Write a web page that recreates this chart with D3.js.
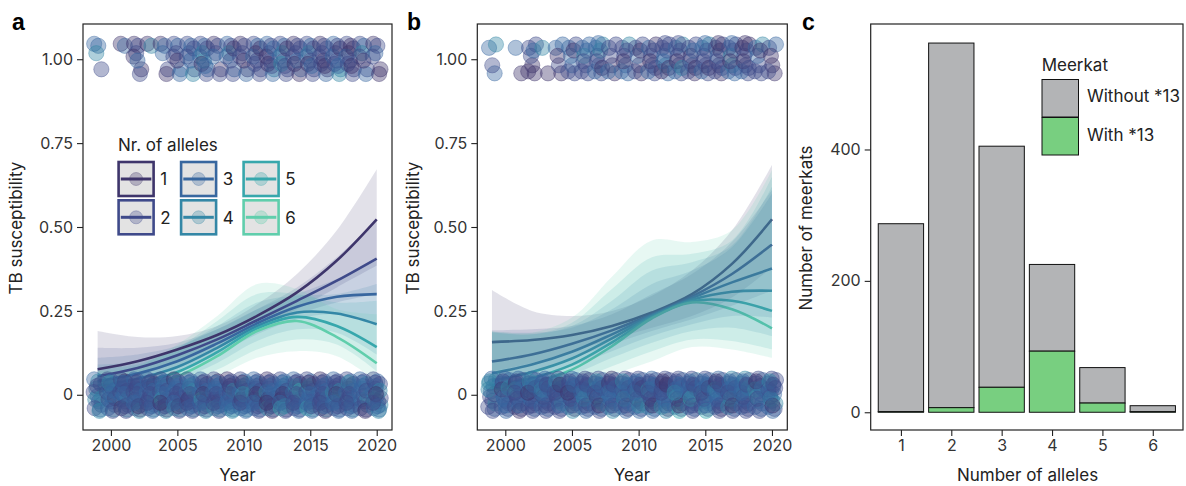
<!DOCTYPE html>
<html>
<head>
<meta charset="utf-8">
<script src="https://cdn.jsdelivr.net/npm/d3@7"></script>
<style>
  body { margin: 0; background: #fff; }
  svg text { font-family: Inter, Roboto, sans-serif; }
</style>
</head>
<body>
<script>
// ---------- data ----------
const years = [1999, 2002, 2005, 2008, 2011, 2014, 2017, 2020];
const alleles = [1, 2, 3, 4, 5, 6];
const alleleColors = ["#3E356B", "#3F4A8A", "#38679F", "#3487A6", "#37A7AC", "#60CEAC"];

// panel a: fitted curves and intervals per allele, at the years above
const fitA = [
  [0.076, 0.100, 0.135, 0.178, 0.235, 0.305, 0.400, 0.523],
  [0.055, 0.080, 0.118, 0.165, 0.222, 0.280, 0.340, 0.406],
  [0.040, 0.063, 0.100, 0.153, 0.213, 0.262, 0.292, 0.300],
  [0.028, 0.048, 0.083, 0.140, 0.205, 0.245, 0.242, 0.210],
  [0.018, 0.035, 0.068, 0.127, 0.198, 0.232, 0.205, 0.142],
  [0.012, 0.025, 0.055, 0.115, 0.190, 0.220, 0.172, 0.094]
];
const hiA = [
  [0.190, 0.172, 0.175, 0.205, 0.270, 0.360, 0.490, 0.672],
  [0.140, 0.140, 0.155, 0.195, 0.255, 0.320, 0.410, 0.520],
  [0.110, 0.120, 0.145, 0.195, 0.255, 0.300, 0.345, 0.400],
  [0.090, 0.100, 0.140, 0.205, 0.275, 0.295, 0.300, 0.330],
  [0.080, 0.090, 0.140, 0.220, 0.300, 0.300, 0.275, 0.280],
  [0.070, 0.085, 0.150, 0.235, 0.330, 0.315, 0.255, 0.240]
];
const loA = [
  [0.028, 0.055, 0.100, 0.150, 0.200, 0.255, 0.320, 0.385],
  [0.020, 0.040, 0.085, 0.140, 0.190, 0.240, 0.275, 0.300],
  [0.012, 0.028, 0.065, 0.120, 0.180, 0.225, 0.240, 0.210],
  [0.008, 0.018, 0.045, 0.095, 0.160, 0.195, 0.185, 0.120],
  [0.004, 0.010, 0.030, 0.075, 0.135, 0.165, 0.150, 0.070],
  [0.002, 0.006, 0.018, 0.055, 0.110, 0.130, 0.115, 0.040]
];

// panel b
const fitB = [
  [0.157, 0.163, 0.178, 0.205, 0.245, 0.300, 0.390, 0.523],
  [0.099, 0.120, 0.152, 0.192, 0.240, 0.293, 0.360, 0.448],
  [0.064, 0.090, 0.128, 0.180, 0.237, 0.288, 0.335, 0.376],
  [0.042, 0.068, 0.108, 0.168, 0.234, 0.283, 0.307, 0.310],
  [0.028, 0.050, 0.090, 0.156, 0.231, 0.279, 0.280, 0.250],
  [0.018, 0.037, 0.075, 0.145, 0.228, 0.275, 0.255, 0.198]
];
const hiB = [
  [0.312, 0.250, 0.235, 0.250, 0.295, 0.370, 0.490, 0.685],
  [0.192, 0.195, 0.205, 0.240, 0.300, 0.360, 0.455, 0.610],
  [0.188, 0.185, 0.200, 0.255, 0.330, 0.370, 0.440, 0.600],
  [0.186, 0.180, 0.205, 0.280, 0.370, 0.395, 0.445, 0.620],
  [0.186, 0.180, 0.215, 0.315, 0.410, 0.420, 0.460, 0.650],
  [0.190, 0.185, 0.230, 0.352, 0.460, 0.455, 0.490, 0.670]
];
const loB = [
  [0.070, 0.095, 0.130, 0.165, 0.200, 0.235, 0.290, 0.380],
  [0.045, 0.070, 0.110, 0.150, 0.190, 0.225, 0.265, 0.310],
  [0.025, 0.045, 0.085, 0.130, 0.175, 0.210, 0.235, 0.230],
  [0.015, 0.030, 0.060, 0.110, 0.155, 0.190, 0.200, 0.175],
  [0.008, 0.018, 0.040, 0.085, 0.130, 0.165, 0.160, 0.135],
  [0.004, 0.010, 0.025, 0.060, 0.100, 0.142, 0.135, 0.110]
];

// observed animals per year (one char = allele count of one animal)
const pointYears = d3.range(1999, 2021);
const infected = [
  "3324", "", "13", "1212213", "14", "13231", "2332321", "23234232", "2334234213", "121223",
  "32342321", "1212321", "232123212", "3242312312", "2324232142", "123212321", "2324232213",
  "1212321221", "3242432123", "2121232121", "2324321", "121312"
];
const healthy = [
  "34243232432424", "23234243232132433", "213242323324123232", "3232124323232423213",
  "3232432123342323232", "2324123252332432321", "1223432323324232213", "2332432312423234232",
  "3243232152332423123", "2123432321324233232", "1232433232123424233", "2323432412323312432",
  "3212342323243232123", "1232342312324123321", "2343232412335232143", "3234232132432325232",
  "2323423232435312323", "1232432323342123232", "3242343234232324123", "2332432124232343232",
  "3243232432342132", "2342333242323424132"
];
// jitter offsets (years, probability) used in each panel
const jitXA = [-0.26, 0.05, 0.28, -0.10, 0.18, -0.30, 0.00, 0.24, -0.18, 0.10, -0.04, 0.30, -0.22, 0.14, -0.12, 0.22, -0.06, 0.08, -0.28, 0.20];
const jitYA = [0.046, 0.040, -0.030, 0.018, -0.044, 0.008, -0.004, 0.032, -0.014, -0.020, 0.026, -0.010, -0.040, -0.048, 0.036, 0.012, 0.002, -0.034, -0.024, 0.042];
const jitXB = [0.20, -0.22, 0.02, 0.30, -0.08, -0.28, 0.12, -0.14, 0.26, -0.02, 0.16, -0.26, 0.06, -0.18, 0.24, -0.10, 0.04, -0.30, 0.10, 0.28];
const jitYB = [-0.042, 0.034, -0.018, 0.044, 0.010, -0.036, 0.026, -0.006, -0.026, 0.048, 0.002, 0.016, -0.048, 0.040, 0.020, -0.012, -0.032, 0.006, 0.030, -0.022];

// panel c
const alleleCats = [1, 2, 3, 4, 5, 6];
const withStar13 = [1, 7, 38, 93, 14, 1];
const withoutStar13 = [286, 555, 367, 132, 54, 9];

const yTicks = [0, 0.25, 0.5, 0.75, 1];
const yearTicks = [2000, 2005, 2010, 2015, 2020];
const countTicks = [0, 200, 400];

// ---------- drawing ----------
const svg = d3.select("body").append("svg")
    .attr("width", 1186)
    .attr("height", 486);

const tickColor = "#333";

function frame(x0, x1, y0, y1) {
    svg.append("rect")
        .attr("x", x0).attr("y", y0)
        .attr("width", x1 - x0).attr("height", y1 - y0)
        .attr("fill", "none")
        .attr("stroke", "#222")
        .attr("stroke-width", 1.2);
}

function styleAxis(g) {
    g.select(".domain").remove();
    g.selectAll(".tick line").attr("stroke", "#222").attr("stroke-width", 1.1);
    g.selectAll(".tick text")
        .attr("fill", tickColor)
        .style("font-size", "16px")
        .style("font-family", "Inter, Roboto, sans-serif");
}

function panelLabel(txt, x) {
    svg.append("text")
        .attr("x", x).attr("y", 30)
        .style("font-family", "'Liberation Sans', Arial, sans-serif")
        .style("font-weight", "bold")
        .style("font-size", "23px")
        .attr("fill", "#000")
        .text(txt);
}

function yTitle(txt, x) {
    svg.append("text")
        .attr("transform", "translate(" + x + ",228) rotate(-90)")
        .attr("text-anchor", "middle")
        .style("font-size", "17px")
        .attr("fill", "#222")
        .text(txt);
}

function xTitle(txt, x) {
    svg.append("text")
        .attr("x", x).attr("y", 481)
        .attr("text-anchor", "middle")
        .style("font-size", "17px")
        .attr("fill", "#222")
        .text(txt);
}

function curvePanel(opts) {
    const xScale = d3.scaleLinear().domain([1997.9, 2021.15]).range([opts.left, opts.right]);
    const yScale = d3.scaleLinear().domain([-0.105, 1.105]).range([430, 24]);

    const area = d3.area()
        .x((d, i) => xScale(years[i]))
        .y0(d => yScale(d[0]))
        .y1(d => yScale(d[1]))
        .curve(d3.curveCatmullRom);
    const line = d3.line()
        .x((d, i) => xScale(years[i]))
        .y(d => yScale(d))
        .curve(d3.curveCatmullRom);

    const ribbons = svg.append("g");
    const lines = svg.append("g");
    // in b the lines sit under the ribbons
    if (opts.linesUnder) lines.lower();

    opts.lo.forEach((lo, a) => {
        ribbons.append("path")
            .datum(lo.map((v, i) => [v, opts.hi[a][i]]))
            .attr("d", area)
            .attr("fill", alleleColors[a])
            .attr("fill-opacity", 0.15);
    });
    opts.fit.forEach((f, a) => {
        lines.append("path")
            .datum(f)
            .attr("d", line)
            .attr("fill", "none")
            .attr("stroke", alleleColors[a])
            .attr("stroke-width", 2.6);
    });

    // jittered observations
    let pts = [];
    [[healthy, 0], [infected, 1]].forEach(([band, base]) => {
        band.forEach((s, yi) => {
            s.split("").forEach((ch, k) => {
                pts.push({
                    x: pointYears[yi] + opts.jx[k % opts.jx.length],
                    y: base + opts.jy[k % opts.jy.length],
                    a: +ch
                });
            });
        });
    });
    svg.append("g").selectAll("circle")
        .data(pts)
        .join("circle")
        .attr("cx", d => xScale(d.x))
        .attr("cy", d => yScale(d.y))
        .attr("r", 7.6)
        .attr("fill", d => alleleColors[d.a - 1])
        .attr("fill-opacity", 0.4)
        .attr("stroke", d => alleleColors[d.a - 1])
        .attr("stroke-opacity", 0.4)
        .attr("stroke-width", 1);

    frame(opts.left, opts.right, 24, 430);

    svg.append("g")
        .attr("transform", "translate(0,430)")
        .call(d3.axisBottom(xScale).tickValues(yearTicks).tickFormat(d3.format("d")).tickSize(6).tickPadding(4))
        .call(styleAxis);
    svg.append("g")
        .attr("transform", "translate(" + opts.left + ",0)")
        .call(d3.axisLeft(yScale).tickValues(yTicks)
            .tickFormat(d => d === 0 ? "0" : d3.format(".2f")(d)).tickSize(6).tickPadding(4))
        .call(styleAxis);
}

curvePanel({ left: 83, right: 392, fit: fitA, hi: hiA, lo: loA, jx: jitXA, jy: jitYA, linesUnder: false });
curvePanel({ left: 477.3, right: 787.3, fit: fitB, hi: hiB, lo: loB, jx: jitXB, jy: jitYB, linesUnder: true });

// legend in panel a
svg.append("text")
    .attr("x", 118).attr("y", 151)
    .style("font-size", "17px")
    .attr("fill", "#222")
    .text("Nr. of alleles");
const leg = svg.append("g").selectAll("g")
    .data(alleles)
    .join("g")
    .attr("transform", (d, i) => "translate(" + (117.3 + Math.floor(i / 2) * 62.5) + "," + (160.7 + (i % 2) * 38.3) + ")");
leg.append("rect")
    .attr("x", 1.3).attr("y", 1.3)
    .attr("width", 35).attr("height", 34)
    .attr("fill", "#e3e3e3")
    .attr("stroke", (d, i) => alleleColors[i])
    .attr("stroke-width", 2.6);
leg.append("circle")
    .attr("cx", 18.8).attr("cy", 18.3).attr("r", 6.5)
    .attr("fill", (d, i) => alleleColors[i])
    .attr("fill-opacity", 0.3)
    .attr("stroke", (d, i) => alleleColors[i])
    .attr("stroke-opacity", 0.3);
leg.append("line")
    .attr("x1", 3.5).attr("x2", 34)
    .attr("y1", 18.3).attr("y2", 18.3)
    .attr("stroke", (d, i) => alleleColors[i])
    .attr("stroke-width", 3);
leg.append("text")
    .attr("x", 43).attr("y", 24.5)
    .style("font-size", "17px")
    .attr("fill", "#222")
    .text(d => d);

// panel c: stacked bars
const xc = d3.scaleLinear().domain([0.4, 6.6]).range([870.7, 1183]);
const yc = d3.scaleLinear().domain([-27, 591]).range([430, 24]);
const barW = xc(0.9) - xc(0);
const bars = svg.append("g");
alleleCats.forEach((c, i) => {
    const total = withStar13[i] + withoutStar13[i];
    bars.append("rect")
        .attr("x", xc(c) - barW / 2).attr("width", barW)
        .attr("y", yc(total)).attr("height", yc(withStar13[i]) - yc(total))
        .attr("fill", "#b3b4b6").attr("stroke", "#111").attr("stroke-width", 1);
    bars.append("rect")
        .attr("x", xc(c) - barW / 2).attr("width", barW)
        .attr("y", yc(withStar13[i])).attr("height", yc(0) - yc(withStar13[i]))
        .attr("fill", "#78cf80").attr("stroke", "#111").attr("stroke-width", 1);
});
frame(870.7, 1183, 24, 430);
svg.append("g")
    .attr("transform", "translate(0,430)")
    .call(d3.axisBottom(xc).tickValues(alleleCats).tickFormat(d3.format("d")).tickSize(6).tickPadding(4))
    .call(styleAxis);
svg.append("g")
    .attr("transform", "translate(870.7,0)")
    .call(d3.axisLeft(yc).tickValues(countTicks).tickFormat(d3.format("d")).tickSize(6).tickPadding(4))
    .call(styleAxis);

// legend in panel c
const legC = [["Without *13", "#b3b4b6"], ["With *13", "#78cf80"]];
svg.append("text")
    .attr("x", 1041.7).attr("y", 71)
    .style("font-size", "17px")
    .attr("fill", "#222")
    .text("Meerkat");
legC.forEach(([lab, col], i) => {
    svg.append("rect")
        .attr("x", 1042).attr("y", 79.5 + i * 38)
        .attr("width", 36.5).attr("height", 37.5)
        .attr("fill", col).attr("stroke", "#111").attr("stroke-width", 1);
    svg.append("text")
        .attr("x", 1087).attr("y", 102 + i * 39)
        .style("font-size", "17px")
        .attr("fill", "#222")
        .text(lab);
});

// titles and panel letters
yTitle("TB susceptibility", 22);
yTitle("TB susceptibility", 418.5);
yTitle("Number of meerkats", 812);
xTitle("Year", 237.5);
xTitle("Year", 632);
xTitle("Number of alleles", 1027.5);
panelLabel("a", 12);
panelLabel("b", 407);
panelLabel("c", 802);
</script>
</body>
</html>
